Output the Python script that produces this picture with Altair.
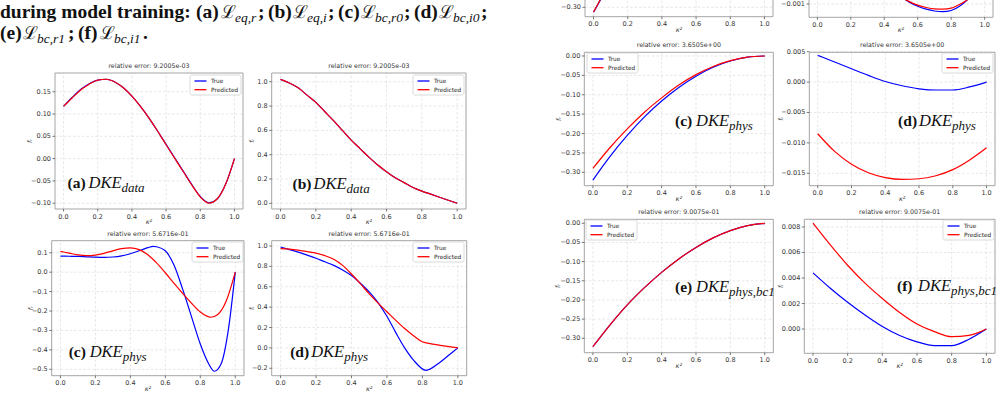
import altair as alt
import pandas as pd

W, H = 1002, 397
SERIF = "Liberation Serif"
SANS = "DejaVu Sans"
GRID = "#dcdcdc"
FRAME = "#9a9a9a"
TXT = "#333333"

# ---------------- data ----------------
X_TICKS = [0.0, 0.2, 0.4, 0.6, 0.8, 1.0]
K11 = [0.0, 0.1, 0.2, 0.3, 0.4, 0.5, 0.6, 0.7, 0.8, 0.9, 1.0]
K21 = [0.0, 0.05, 0.1, 0.15, 0.2, 0.25, 0.3, 0.35, 0.4, 0.45, 0.5,
       0.55, 0.6, 0.65, 0.7, 0.75, 0.8, 0.85, 0.9, 0.95, 1.0]

# left page, (a)
A_TRUE = [0.117, 0.137, 0.155, 0.168, 0.176, 0.178, 0.172, 0.159, 0.140, 0.117, 0.091,
          0.062, 0.032, 0.002, -0.028, -0.058, -0.085, -0.099, -0.090, -0.056, 0.0]
A_PRED = [0.117, 0.136, 0.154, 0.167, 0.176, 0.178, 0.172, 0.159, 0.140, 0.117, 0.091,
          0.062, 0.031, 0.001, -0.029, -0.059, -0.086, -0.100, -0.090, -0.056, 0.0]
# left page, (b)
B_TRUE = [1.02, 0.99, 0.95, 0.89, 0.83, 0.755, 0.68, 0.60, 0.52, 0.45, 0.38,
          0.315, 0.26, 0.21, 0.17, 0.13, 0.10, 0.075, 0.05, 0.025, 0.0]
B_PRED = [1.02, 0.99, 0.95, 0.89, 0.83, 0.755, 0.68, 0.60, 0.52, 0.45, 0.38,
          0.315, 0.26, 0.21, 0.17, 0.13, 0.10, 0.075, 0.05, 0.025, 0.0]
# left page, (c)
C1_X_TRUE = [0.0, 0.05, 0.1, 0.15, 0.2, 0.25, 0.3, 0.35, 0.4, 0.45, 0.5, 0.53, 0.55, 0.6,
             0.65, 0.7, 0.75, 0.8, 0.85, 0.88, 0.92, 0.96, 1.0]
C1_TRUE = [0.083, 0.082, 0.081, 0.079, 0.077, 0.076, 0.078, 0.084, 0.095, 0.110, 0.126, 0.133,
           0.131, 0.110, 0.035, -0.090, -0.230, -0.370, -0.475, -0.510, -0.470, -0.300, 0.0]
C1_X_PRED = [0.0, 0.05, 0.1, 0.15, 0.2, 0.25, 0.3, 0.35, 0.4, 0.45, 0.5, 0.55, 0.6, 0.65,
             0.7, 0.75, 0.8, 0.86, 0.9, 0.95, 1.0]
C1_PRED = [0.107, 0.098, 0.089, 0.085, 0.088, 0.097, 0.110, 0.121, 0.125, 0.116, 0.090,
           0.048, -0.003, -0.058, -0.110, -0.160, -0.205, -0.232, -0.218, -0.145, 0.0]
# left page, (d)
D1_X_TRUE = [0.0, 0.05, 0.1, 0.15, 0.2, 0.25, 0.3, 0.35, 0.4, 0.45, 0.5, 0.55, 0.6, 0.65,
             0.7, 0.75, 0.82, 0.9, 0.95, 1.0]
D1_TRUE = [0.99, 0.965, 0.94, 0.91, 0.88, 0.845, 0.81, 0.765, 0.71, 0.635, 0.55, 0.445,
           0.31, 0.15, 0.0, -0.12, -0.22, -0.14, -0.07, 0.0]
D1_PRED = [0.975, 0.970, 0.960, 0.945, 0.930, 0.905, 0.870, 0.810, 0.725, 0.630, 0.530,
           0.440, 0.355, 0.270, 0.190, 0.120, 0.060, 0.040, 0.025, 0.012, 0.0]
# right page, cut-off panels at the very top
TL_X = [0.0, 0.02, 0.04, 0.06]
TL_TRUE = [-0.313, -0.297, -0.281, -0.266]
TL_PRED = [-0.312, -0.296, -0.280, -0.265]
TR_X = [0.5, 0.55, 0.6, 0.65, 0.7, 0.75, 0.8, 0.85, 0.9, 0.95]
TR_TRUE = [-0.0007, -0.00092, -0.0011, -0.00122, -0.0013, -0.00133, -0.00128, -0.0011, -0.0008, -0.0004]
TR_PRED = [-0.0007, -0.0009, -0.00105, -0.00115, -0.00121, -0.00122, -0.00118, -0.00102, -0.0008, -0.0004]
# right page, (c) (d)
C2_TRUE = [-0.320, -0.259, -0.205, -0.157, -0.116, -0.081, -0.052, -0.029, -0.013, -0.003, 0.0]
C2_PRED = [-0.290, -0.236, -0.188, -0.145, -0.108, -0.075, -0.048, -0.027, -0.012, -0.003, 0.0]
D2_TRUE = [0.0044, 0.0033, 0.0022, 0.0011, 0.0001, -0.0006, -0.0011, -0.0013, -0.0013, -0.0008, 0.0]
D2_PRED = [-0.0085, -0.0114, -0.0135, -0.0149, -0.0157, -0.0160, -0.0159, -0.0154, -0.0144, -0.0128, -0.0108]
# right page, (e) (f)
E2_TRUE = [-0.322, -0.265, -0.213, -0.168, -0.128, -0.093, -0.063, -0.038, -0.019, -0.006, 0.0]
E2_PRED = [-0.322, -0.265, -0.213, -0.168, -0.128, -0.093, -0.063, -0.038, -0.019, -0.006, 0.0]
F2_TRUE = [0.0044, 0.0032, 0.0021, 0.0011, 0.0002, -0.0005, -0.0010, -0.0013, -0.0013, -0.0008, 0.0]
F2_PRED = [0.0083, 0.0066, 0.0050, 0.0036, 0.0024, 0.0013, 0.0004, -0.0002, -0.0006, -0.0005, 0.0]

SERIES = ["True", "Predicted"]
COLORS = ["#0000ff", "#ff0000"]
TITLE_AB = "relative error: 9.2005e-03"
TITLE_CD1 = "relative error: 5.6716e-01"
TITLE_CD2 = "relative error: 3.6505e+00"
TITLE_EF2 = "relative error: 9.0075e-01"
X_TITLE = "κ²"

# caption text (page text above the left figure)
CAP_BOLD = ["during model training:", "(a)", ";", "(b)", ";", "(c)", ";", "(d)", ";",
            "(e)", ";", "(f)", "."]
CAP_SCRIPT = ["ℒ", "ℒ", "ℒ", "ℒ", "ℒ", "ℒ"]
CAP_SUB = ["eq,r", "eq,i", "bc,r0", "bc,i0", "bc,r1", "bc,i1"]

# ---------------- layout (pixels) ----------------
CAP_BOLD_X = [0, 196, 258, 268, 328, 338, 404, 414, 481, 0, 68, 78, 143]
CAP_BOLD_Y = [18, 18, 18, 18, 18, 18, 18, 18, 18, 39, 39, 39, 39]
CAP_SCRIPT_X = [221, 293, 361, 439, 23, 100]
CAP_SCRIPT_Y = [18, 18, 18, 18, 39, 39]
CAP_SUB_X = [235, 307, 375, 453, 37, 114]
CAP_SUB_Y = [22, 22, 22, 22, 43, 43]

PANELS = [
    dict(frame=(55, 243, 73, 209), ydom=(-0.113, 0.192),
         yticks=[-0.10, -0.05, 0.0, 0.05, 0.10, 0.15], yfmt=".2f", ytitle="fᵣ", ytoff=-25,
         xt=K21, yt=A_TRUE, xp=K21, yp=A_PRED, title=TITLE_AB,
         label=("(a)", "data"), lpos=(0.023, -0.066), leg=(190, 75)),
    dict(frame=(271.7, 466, 73, 209), ydom=(-0.047, 1.072),
         yticks=[0.0, 0.2, 0.4, 0.6, 0.8, 1.0], yfmt=".1f", ytitle="fᵢ", ytoff=-20,
         xt=K21, yt=B_TRUE, xp=K21, yp=B_PRED, title=TITLE_AB,
         label=("(b)", "data"), lpos=(0.068, 0.115), leg=(413, 75)),
    dict(frame=(51.7, 244, 240.7, 375.7), ydom=(-0.533, 0.162),
         yticks=[-0.5, -0.4, -0.3, -0.2, -0.1, 0.0, 0.1], yfmt=".1f", ytitle="fᵣ", ytoff=-21,
         xt=C1_X_TRUE, yt=C1_TRUE, xp=C1_X_PRED, yp=C1_PRED, title=TITLE_CD1,
         label=("(c)", "phys"), lpos=(0.047, -0.435), leg=(192, 242)),
    dict(frame=(271.7, 466.7, 240.7, 375.7), ydom=(-0.273, 1.052),
         yticks=[-0.2, 0.0, 0.2, 0.4, 0.6, 0.8, 1.0], yfmt=".1f", ytitle="fᵢ", ytoff=-20,
         xt=D1_X_TRUE, yt=D1_TRUE, xp=K21, yp=D1_PRED, title=TITLE_CD1,
         label=("(d)", "phys"), lpos=(0.054, -0.086), leg=(413, 242)),
    dict(frame=(585, 773, 0, 16.7), ydom=(-0.3243, -0.2811), ftop=-0.2,
         yticks=[-0.30], yfmt=".2f", ytitle=None, ytoff=0,
         xt=TL_X, yt=TL_TRUE, xp=TL_X, yp=TL_PRED, title=None, label=None, lpos=None, leg=None),
    dict(frame=(809, 993, 0, 17.3), ydom=(-0.00157, -0.00083), ftop=-0.0002,
         yticks=[-0.001], yfmt=".3f", ytitle=None, ytoff=0,
         xt=TR_X, yt=TR_TRUE, xp=TR_X, yp=TR_PRED, title=None, label=None, lpos=None, leg=None),
    dict(frame=(584.3, 773.3, 52.3, 185.7), ydom=(-0.3345, 0.0095),
         yticks=[-0.30, -0.25, -0.20, -0.15, -0.10, -0.05, 0.0], yfmt=".2f", ytitle="fᵣ", ytoff=-25,
         xt=K11, yt=C2_TRUE, xp=K11, yp=C2_PRED, title=TITLE_CD2,
         label=("(c)", "phys"), lpos=(0.478, -0.18), leg=(587, 53)),
    dict(frame=(809.3, 995, 52.3, 185.7), ydom=(-0.01704, 0.0049),
         yticks=[-0.015, -0.010, -0.005, 0.0, 0.005], yfmt=".3f", ytitle="fᵢ", ytoff=-28,
         xt=K11, yt=D2_TRUE, xp=K11, yp=D2_PRED, title=TITLE_CD2,
         label=("(d)", "phys"), lpos=(0.476, -0.0072), leg=(942, 53)),
    dict(frame=(584.3, 773.3, 219.3, 352.7), ydom=(-0.3376, 0.0104),
         yticks=[-0.30, -0.25, -0.20, -0.15, -0.10, -0.05, 0.0], yfmt=".2f", ytitle="fᵣ", ytoff=-26,
         xt=K11, yt=E2_TRUE, xp=K11, yp=E2_PRED, title=TITLE_EF2,
         label=("(e)", "phys,bc1"), lpos=(0.478, -0.178), leg=(586, 220)),
    dict(frame=(804.3, 995, 219.3, 353.3), ydom=(-0.0019, 0.0086),
         yticks=[0.0, 0.002, 0.004, 0.006, 0.008], yfmt=".3f", ytitle="fᵢ", ytoff=-23,
         xt=K11, yt=F2_TRUE, xp=K11, yp=F2_PRED, title=TITLE_EF2,
         label=("(f)", "phys,bc1"), lpos=(0.485, 0.00297), leg=(943, 220)),
]

ONE = pd.DataFrame({"o": [0]})


def make_panel(p):
    L, R, T, B = p["frame"]
    y0, y1 = p["ydom"]
    ftop = p.get("ftop", y1)
    xs = alt.Scale(domain=[-0.05, 1.05], range=[L, R], nice=False, zero=False)
    ys = alt.Scale(domain=[y0, y1], range=[B, T], nice=False, zero=False)

    def X(f):
        return alt.X(f, scale=xs, axis=None)

    def Y(f):
        return alt.Y(f, scale=ys, axis=None)

    xt_df = pd.DataFrame({"v": X_TICKS, "lo": y0, "hi": ftop})
    yt_df = pd.DataFrame({"v": p["yticks"], "lo": -0.05, "hi": 1.05})

    gx = alt.Chart(xt_df).mark_rule(color=GRID, strokeWidth=0.7, strokeDash=[2.5, 2]).encode(
        x=X("v:Q"), y=Y("lo:Q"), y2="hi:Q")
    gy = alt.Chart(yt_df).mark_rule(color=GRID, strokeWidth=0.7, strokeDash=[2.5, 2]).encode(
        y=Y("v:Q"), x=X("lo:Q"), x2="hi:Q")
    frame = alt.Chart(pd.DataFrame({"x0": [-0.05], "x1": [1.05], "y0": [y0], "y1": [ftop]})).mark_rect(
        fillOpacity=0, stroke=FRAME, strokeWidth=0.9).encode(
        x=X("x0:Q"), x2="x1:Q", y=Y("y0:Q"), y2="y1:Q")

    # axes: ticks and tick labels through the panel scales
    xtick = alt.Chart(xt_df).mark_rule(color="#555", strokeWidth=0.8, y2Offset=2.5).encode(
        x=X("v:Q"), y=Y("lo:Q"), y2="lo:Q")
    xlab = alt.Chart(xt_df).mark_text(font=SANS, fontSize=6.5, color=TXT, baseline="middle", dy=7.5).encode(
        x=X("v:Q"), y=Y("lo:Q"), text=alt.Text("v:Q", format=".1f"))
    ytick = alt.Chart(yt_df).mark_rule(color="#555", strokeWidth=0.8, x2Offset=-2.5).encode(
        y=Y("v:Q"), x=X("lo:Q"), x2="lo:Q")
    ylab = alt.Chart(yt_df).mark_text(font=SANS, fontSize=6.5, color=TXT, align="right",
                                      baseline="middle", dx=-4).encode(
        y=Y("v:Q"), x=X("lo:Q"), text=alt.Text("v:Q", format=p["yfmt"]))
    xtitle = alt.Chart(pd.DataFrame({"x": [0.5], "y": [y0], "t": [X_TITLE]})).mark_text(
        font=SANS, fontSize=6.5, fontStyle="italic", color=TXT, baseline="middle", dy=13).encode(
        x=X("x:Q"), y=Y("y:Q"), text="t:N")

    blue = alt.Chart(pd.DataFrame({"k": p["xt"], "f": p["yt"]})).mark_line(
        strokeWidth=1.2, interpolate="monotone", color=COLORS[0]).encode(x=X("k:Q"), y=Y("f:Q"))
    red = alt.Chart(pd.DataFrame({"k": p["xp"], "f": p["yp"]})).mark_line(
        strokeWidth=1.2, interpolate="monotone", color=COLORS[1]).encode(x=X("k:Q"), y=Y("f:Q"))

    layers = [gx, gy, frame, xtick, xlab, ytick, ylab, xtitle, blue, red]

    if p["ytitle"]:
        layers.append(alt.Chart(pd.DataFrame({"x": [-0.05], "y": [(y0 + y1) / 2], "t": [p["ytitle"]]})).mark_text(
            font=SANS, fontSize=6.5, fontStyle="italic", color=TXT, angle=270, baseline="middle",
            xOffset=p["ytoff"]).encode(x=X("x:Q"), y=Y("y:Q"), text="t:N"))
    if p["title"]:
        layers.append(alt.Chart(pd.DataFrame({"x": [0.5], "y": [y1], "t": [p["title"]]})).mark_text(
            font=SANS, fontSize=6.3, color=TXT, dy=-5, baseline="alphabetic").encode(
            x=X("x:Q"), y=Y("y:Q"), text="t:N"))
    if p["leg"]:
        lx, ly = p["leg"]
        layers.append(alt.Chart(ONE).mark_rect(fill="white", stroke="#d0d0d0", strokeWidth=0.8,
                                               cornerRadius=2).encode(
            x=alt.value(lx), x2=alt.value(lx + 51), y=alt.value(ly), y2=alt.value(ly + 20)))
        for i, (name, col) in enumerate(zip(SERIES, COLORS)):
            yy = ly + 6 + i * 8.7
            layers.append(alt.Chart(ONE).mark_rule(color=col, strokeWidth=1.3).encode(
                x=alt.value(lx + 4.5), x2=alt.value(lx + 16.5), y=alt.value(yy)))
            layers.append(alt.Chart(ONE).mark_text(font=SANS, fontSize=5.8, color="#222", align="left",
                                                   baseline="middle").encode(
                x=alt.value(lx + 21), y=alt.value(yy), text=alt.value(name)))
    if p["label"]:
        lx, ly = p["lpos"]
        ldf = pd.DataFrame({"x": [lx], "y": [ly], "a": [p["label"][0]], "b": ["DKE"], "c": [p["label"][1]]})
        enc = dict(x=X("x:Q"), y=Y("y:Q"))
        layers.append(alt.Chart(ldf).mark_text(font=SERIF, fontSize=15.5, fontWeight="bold",
                                              align="left", baseline="alphabetic", color="#111").encode(text="a:N", **enc))
        layers.append(alt.Chart(ldf).mark_text(font=SERIF, fontSize=16.5, fontStyle="italic",
                                              align="left", baseline="alphabetic", color="#111", dx=21).encode(text="b:N", **enc))
        layers.append(alt.Chart(ldf).mark_text(font=SERIF, fontSize=13, fontStyle="italic",
                                              align="left", baseline="alphabetic", color="#111", dx=54, dy=4).encode(text="c:N", **enc))
    return alt.layer(*layers)


panels = [make_panel(p) for p in PANELS]

cap_bold = alt.Chart(pd.DataFrame({"t": CAP_BOLD, "x": CAP_BOLD_X, "y": CAP_BOLD_Y})).mark_text(
    font=SERIF, fontSize=19.5, fontWeight="bold", align="left", baseline="alphabetic", color="#111").encode(
    x=alt.X("x:Q", scale=None, axis=None), y=alt.Y("y:Q", scale=None, axis=None), text="t:N")
cap_script = alt.Chart(pd.DataFrame({"t": CAP_SCRIPT, "x": CAP_SCRIPT_X, "y": CAP_SCRIPT_Y})).mark_text(
    font="DejaVu Serif", fontSize=18, align="left", baseline="alphabetic", color="#111").encode(
    x=alt.X("x:Q", scale=None, axis=None), y=alt.Y("y:Q", scale=None, axis=None), text="t:N")
cap_sub = alt.Chart(pd.DataFrame({"t": CAP_SUB, "x": CAP_SUB_X, "y": CAP_SUB_Y})).mark_text(
    font=SERIF, fontSize=13.5, fontStyle="italic", align="left", baseline="alphabetic", color="#111").encode(
    x=alt.X("x:Q", scale=None, axis=None), y=alt.Y("y:Q", scale=None, axis=None), text="t:N")

chart = alt.layer(*panels, cap_bold, cap_script, cap_sub).resolve_scale(
    x="independent", y="independent").properties(
    width=W, height=H, padding=0, autosize=alt.AutoSizeParams(type="none"),
    background="white").configure_view(stroke=None)

chart.save("out.html", embed_options={"renderer": "svg", "actions": False})
